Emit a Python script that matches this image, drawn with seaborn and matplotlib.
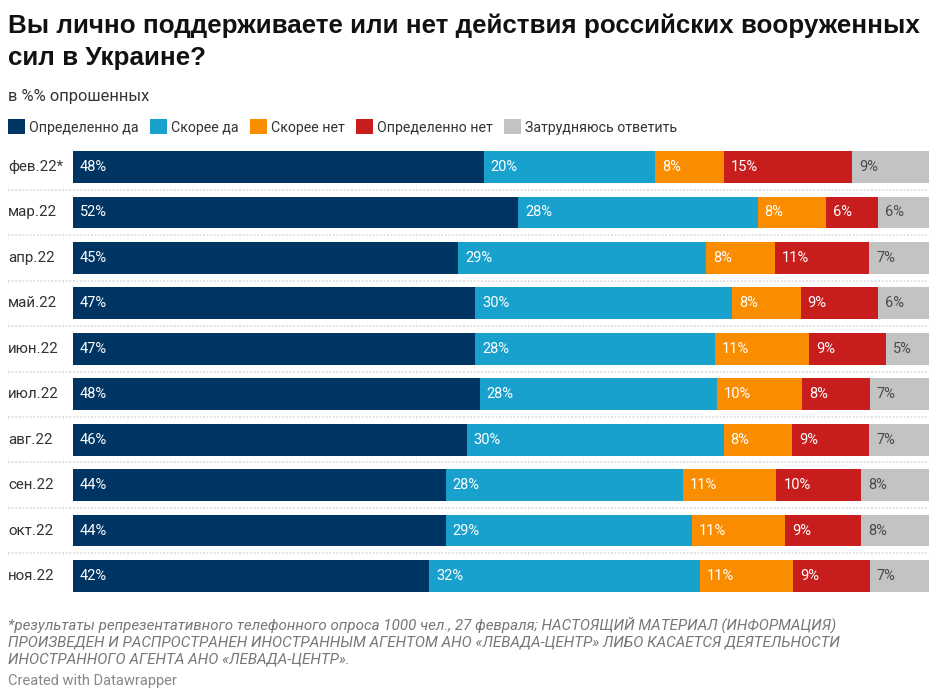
import numpy as np
import pandas as pd
import matplotlib
matplotlib.use("Agg")
import matplotlib.pyplot as plt
from matplotlib.patches import Patch
from matplotlib.transforms import blended_transform_factory, offset_copy
import seaborn as sns

months = ["фев.22*", "мар.22", "апр.22", "май.22", "июн.22", "июл.22",
          "авг.22", "сен.22", "окт.22", "ноя.22"]
categories = ["Определенно да", "Скорее да", "Скорее нет", "Определенно нет",
              "Затрудняюсь ответить"]
def_yes = [48, 52, 45, 47, 47, 48, 46, 44, 44, 42]
rather_yes = [20, 28, 29, 30, 28, 28, 30, 28, 29, 32]
rather_no = [8, 8, 8, 8, 11, 10, 8, 11, 11, 11]
def_no = [15, 6, 11, 9, 9, 8, 9, 10, 9, 9]
dont_know = [9, 6, 7, 6, 5, 7, 7, 8, 8, 7]

colors = ["#003462", "#18a1cd", "#fa8c00", "#c71e1d", "#c3c3c3"]
label_colors = ["white", "white", "white", "white", "#4a4a4a"]

sns.set_theme(style="white")
plt.rcParams["font.family"] = ["Roboto", "DejaVu Sans"]
TITLE_FONT = ["Liberation Sans", "DejaVu Sans"]

vals = np.array([def_yes, rather_yes, rather_no, def_no, dont_know], dtype=float)
shares = vals / vals.sum(axis=0) * 100  # Datawrapper stacks each row to full width
cum = np.cumsum(shares, axis=0)
starts = cum - shares

fig = plt.figure(figsize=(9.4, 6.98), dpi=100)
ax = fig.add_axes([73 / 940, 1 - 598.7 / 698, (929 - 73) / 940, (598.7 - 144.3) / 698])

for i in reversed(range(len(categories))):
    df = pd.DataFrame({"month": months, "value": cum[i]})
    sns.barplot(data=df, x="value", y="month", order=months, orient="h",
                color=colors[i], saturation=1, width=0.7, linewidth=0, ax=ax)

ax.set_xlim(0, 100)
ax.set_ylim(len(months) - 0.5, -0.5)
ax.set_xlabel("")
ax.set_ylabel("")
ax.set_xticks([])
ax.set_yticks([])
for s in ax.spines.values():
    s.set_visible(False)

# value labels
for i in range(len(categories)):
    for j in range(len(months)):
        tr = offset_copy(ax.transData, fig=fig, x=5, y=0, units="points")
        ax.text(starts[i, j], j, f"{int(vals[i, j])}%", transform=tr,
                ha="left", va="center", fontsize=10.5, color=label_colors[i])

# row labels and separators
bt = blended_transform_factory(fig.transFigure, ax.transData)
for j, m in enumerate(months):
    ax.text(8 / 940, j, m, transform=bt, ha="left", va="center",
            fontsize=10.9, color="#333333")
for j in range(len(months) - 1):
    ax.plot([8 / 940, 929 / 940], [j + 0.5, j + 0.5], transform=bt,
            color="#dedede", lw=1.3, ls=(0, (1, 1)), clip_on=False)

# title / subtitle
fig.text(8 / 940, 1 - 33 / 698, "Вы лично поддерживаете или нет действия российских вооруженных",
         fontsize=18.7, fontweight="bold", color="#111111", va="baseline", ha="left",
         family=TITLE_FONT)
fig.text(8 / 940, 1 - 65.5 / 698, "сил в Украине?",
         fontsize=18.7, fontweight="bold", color="#111111", va="baseline", ha="left",
         family=TITLE_FONT)
fig.text(8 / 940, 1 - 100.5 / 698, "в %% опрошенных", fontsize=11.8,
         color="#333333", va="baseline", ha="left")

# legend
handles = [Patch(facecolor=c, edgecolor="none") for c in colors]
leg = fig.legend(handles, categories, loc="center left",
                 bbox_to_anchor=(8 / 940, 1 - 127 / 698), ncol=5, frameon=False,
                 fontsize=10.2, handlelength=1.2, handleheight=1.2,
                 handletextpad=0.3, columnspacing=0.78, borderaxespad=0,
                 borderpad=0)
for t in leg.get_texts():
    t.set_color("#333333")

# footer
foot = ["*результаты репрезентативного телефонного опроса 1000 чел., 27 февраля; НАСТОЯЩИЙ МАТЕРИАЛ (ИНФОРМАЦИЯ)",
        "ПРОИЗВЕДЕН И РАСПРОСТРАНЕН ИНОСТРАННЫМ АГЕНТОМ АНО «ЛЕВАДА-ЦЕНТР» ЛИБО КАСАЕТСЯ ДЕЯТЕЛЬНОСТИ",
        "ИНОСТРАННОГО АГЕНТА АНО «ЛЕВАДА-ЦЕНТР»."]
for k, line in enumerate(foot):
    fig.text(8 / 940, 1 - (625 + 17.5 * k) / 698, line, fontsize=10.9,
             style="italic", color="#777777", va="center", ha="left")
fig.text(8 / 940, 1 - 681 / 698, "Created with Datawrapper", fontsize=10.5,
         color="#888888", va="center", ha="left")

fig.savefig("out.png", dpi=100, facecolor="white")
